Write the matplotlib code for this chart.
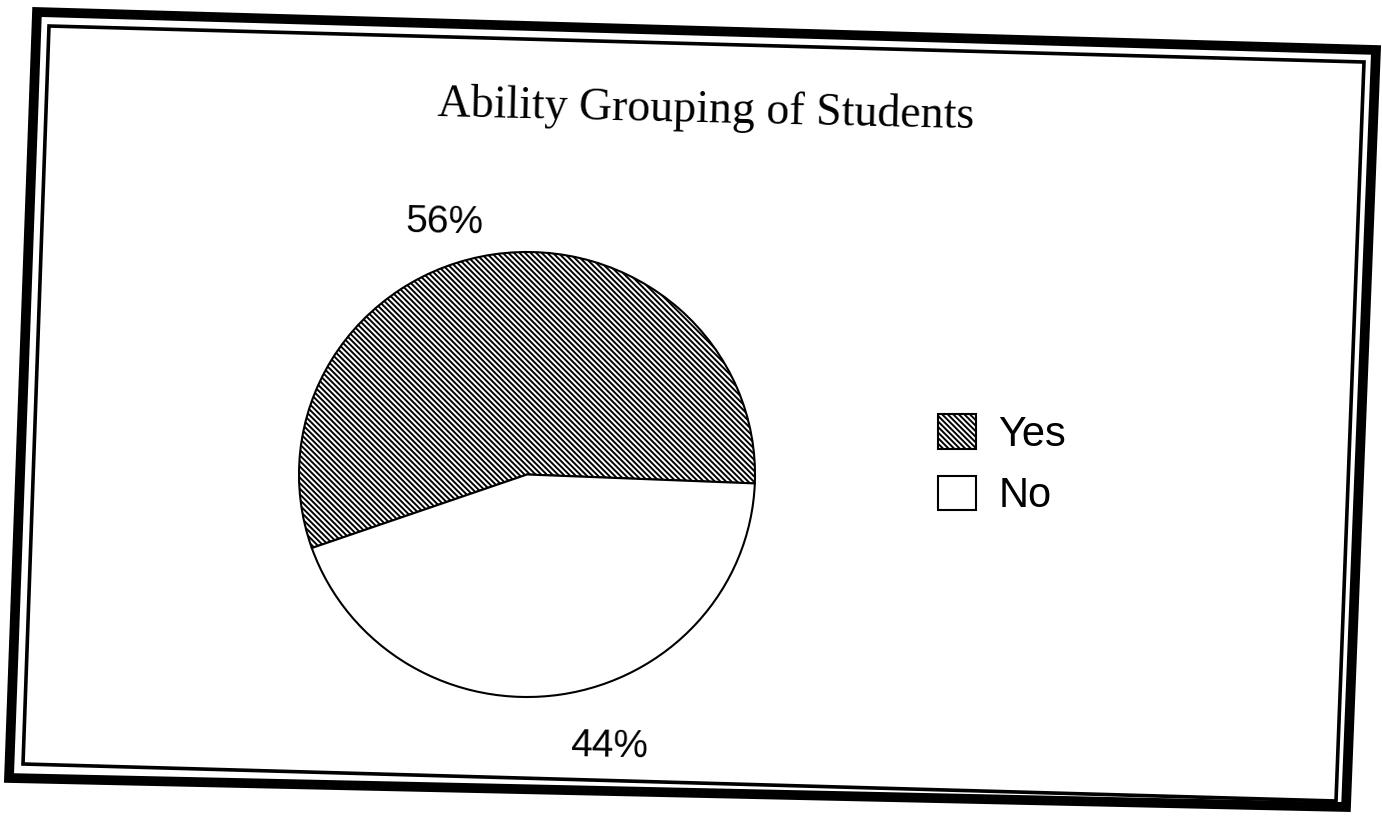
import numpy as np
import matplotlib
matplotlib.use("Agg")
import matplotlib.pyplot as plt
from matplotlib.patches import Polygon

# Survey answers
labels = ["Yes", "No"]
shares = [56, 44]
pct_text = ["56%", "44%"]

W, H = 1382, 817
plt.rcParams['hatch.linewidth'] = 1.4

fig = plt.figure(figsize=(W / 100, H / 100), dpi=100)
fig.patch.set_facecolor("white")

# background axes in pixel units for the double border
bg = fig.add_axes([0, 0, 1, 1])
bg.set_xlim(0, W)
bg.set_ylim(H, 0)
bg.axis("off")
outer = [(37, 12), (1376, 50), (1346, 807), (9, 778)]
inner = [(49, 26), (1364, 62), (1336, 801), (23, 764)]
bg.add_patch(Polygon(outer, closed=True, fill=False, edgecolor="black", linewidth=7, joinstyle="miter"))
bg.add_patch(Polygon(inner, closed=True, fill=False, edgecolor="black", linewidth=2.6, joinstyle="miter"))

fig.text(706 / W, 1 - 111 / H, "Ability Grouping of Students", family="Liberation Serif",
         fontsize=33, ha="center", va="center", rotation=-1.3)

# pie, slightly tilted like the rest of the sheet
ax = fig.add_axes([299 / W, 1 - 697 / H, 456 / W, 445 / H])
wedges, _ = ax.pie(shares, startangle=-2.3, counterclock=True, radius=1,
                   colors=["white", "white"],
                   wedgeprops=dict(edgecolor="black", linewidth=1.5))
wedges[0].set_hatch("\\" * 6)
ax.set_xlim(-1, 1)
ax.set_ylim(-1, 1)
ax.set_aspect("auto")

for w, txt in zip(wedges, pct_text):
    ang = np.deg2rad((w.theta1 + w.theta2) / 2 + 8.5)
    r = 1.23
    ax.text(r * np.cos(ang), r * np.sin(ang) - 0.045, txt, family="Liberation Sans",
            fontsize=28, ha="center", va="center", rotation=-1.0)

leg = fig.legend(wedges, labels, loc="upper left", bbox_to_anchor=(938 / W, 1 - 414 / H),
                 frameon=False, borderpad=0, borderaxespad=0,
                 prop={"family": "Liberation Sans", "size": 30},
                 handlelength=0.9, handleheight=0.9, handletextpad=0.55,
                 labelspacing=0.5)

fig.savefig("out.png", dpi=100, facecolor="white")
